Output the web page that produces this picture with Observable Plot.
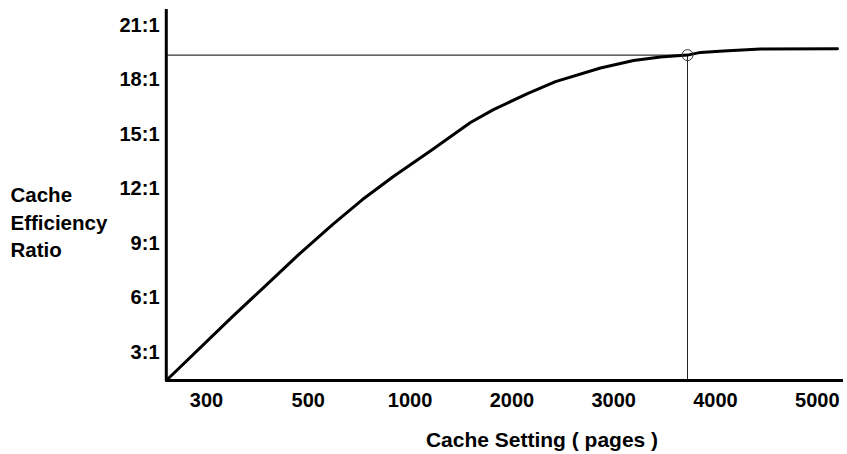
<!DOCTYPE html>
<html>
<head>
<meta charset="utf-8">
<script src="https://cdn.jsdelivr.net/npm/d3@7"></script>
<script src="https://cdn.jsdelivr.net/npm/@observablehq/plot@0.6"></script>
<style>
  html, body { margin: 0; padding: 0; background: #fff; }
</style>
</head>
<body>
<div id="chart"></div>
<script>
// ---- data ----
const cacheSetting = [221, 351, 410, 481, 619, 766, 918, 1220, 1593, 1819, 2153, 2428, 2870, 3195, 3460, 3725, 3853, 4079, 4442, 5198];
const efficiency   = [1.46, 4.98, 6.52, 8.39, 10.04, 11.42, 12.69, 14.17, 15.66, 16.37, 17.25, 17.91, 18.66, 19.07, 19.26, 19.37, 19.52, 19.60, 19.70, 19.72];
const xTicks = [300, 500, 1000, 2000, 3000, 4000, 5000];
const yTicks = [3, 6, 9, 12, 15, 18, 21];
const optimum = {x: 3725, y: 19.37};
const xMin = 221, xMax = 5257;
const yMin = 1.46, yMax = 21.88;

const curve = cacheSetting.map((x, i) => ({x, y: efficiency[i]}));

const W = 847, H = 454;
const mLeft = 166, mTop = 9, mBottom = 74;
const firstTick = 206, tickStep = 101.8;

const chart = Plot.plot({
  width: W,
  height: H,
  marginLeft: mLeft,
  marginRight: 4,
  marginTop: mTop,
  marginBottom: mBottom,
  style: {fontFamily: "'Liberation Sans', Arial, sans-serif", fontSize: "20px", fontWeight: "bold", color: "#000", background: "#fff"},
  x: {
    type: "linear",
    domain: xTicks,
    range: xTicks.map((_, i) => firstTick + i * tickStep)
  },
  y: {domain: [yMin, yMax]},
  marks: [
    Plot.axisX({ticks: xTicks, tickFormat: d => `${d}`, tickSize: 0, tickPadding: 12, label: null}),
    Plot.axisY({ticks: yTicks, tickFormat: d => `${d}:1`, tickSize: 0, tickPadding: 7, label: null}),
    // reference lines to the optimum
    Plot.ruleY([optimum.y], {x1: xMin, x2: optimum.x, stroke: "#000", strokeWidth: 1}),
    Plot.ruleX([optimum.x], {y1: yMin, y2: optimum.y, stroke: "#222", strokeWidth: 1}),
    // axis lines
    Plot.ruleX([xMin], {y1: yMin, y2: yMax, stroke: "#000", strokeWidth: 3}),
    Plot.ruleY([yMin], {x1: xMin, x2: xMax, stroke: "#000", strokeWidth: 3}),
    // curve
    Plot.line(curve, {x: "x", y: "y", stroke: "#000", strokeWidth: 3, curve: "linear", strokeLinejoin: "round"}),
    Plot.dot([optimum], {x: "x", y: "y", r: 5.5, stroke: "#333", strokeWidth: 1, fill: "none"}),
    // axis titles
    Plot.text(["Cache\nEfficiency\nRatio"], {frameAnchor: "left", dx: -156, dy: 26, textAnchor: "start", lineAnchor: "middle", lineHeight: 1.33, fill: "#000", fontWeight: "bold", fontSize: 20.5}),
    Plot.text(["Cache Setting ( pages )"], {frameAnchor: "bottom", dx: 37, dy: 60, lineAnchor: "middle", fill: "#000", fontWeight: "bold", fontSize: 21})
  ]
});
document.getElementById("chart").appendChild(chart);
</script>
</body>
</html>
